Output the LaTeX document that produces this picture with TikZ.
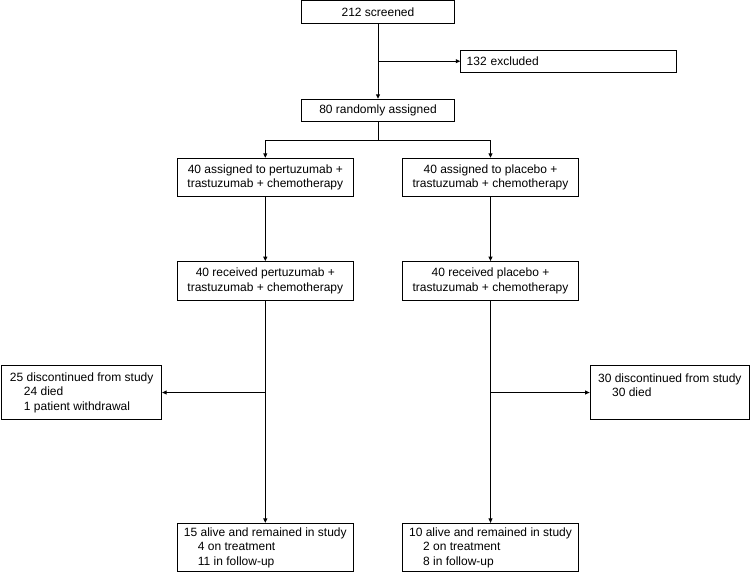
\documentclass[tikz,border=0pt]{standalone}
\usepackage{fontspec}
\setmainfont{Liberation Sans}
\usetikzlibrary{positioning,arrows.meta}

\begin{document}
\begin{tikzpicture}[x=1pt,y=-1pt,
  font=\fontsize{12}{14.5}\selectfont,
  line width=0.9pt,
  box/.style={draw,inner xsep=6pt,inner ysep=0pt,minimum width=176pt,minimum height=38.5pt,align=center},
  slim/.style={box,minimum width=153pt,minimum height=22.5pt},
  listbox/.style={box,align=left},
  >={Triangle[length=4.5pt,width=4pt]}]
  \useasboundingbox (0,0) rectangle (751,573);
  % screening
  \node[slim] (scr) at (378,12) {212 screened};
  \node[slim,align=left,text width=204pt] (exc) at (568.7,61.2) {132 excluded};
  \node[slim] (rand) at (378,110.5) {80 randomly assigned};
  % two arms
  \node[box] (asgL) at (265.3,177.5) {40 assigned to pertuzumab +\\trastuzumab + chemotherapy};
  \node[box] (asgR) at (490.5,177.5) {40 assigned to placebo +\\trastuzumab + chemotherapy};
  \node[box] (recL) at (265.3,280.8) {40 received pertuzumab +\\trastuzumab + chemotherapy};
  \node[box] (recR) at (490.5,280.8) {40 received placebo +\\trastuzumab + chemotherapy};
  % discontinued
  \node[listbox,minimum width=160pt,minimum height=53.6pt] (disL) at (81.7,392.5)
    {25 discontinued from study\\\hspace*{14pt}24 died\\\hspace*{14pt}1 patient withdrawal};
  \node[listbox,minimum width=159.5pt,minimum height=53.6pt] (disR) at (669.8,392.5)
    {30 discontinued from study\\\hspace*{14pt}30 died\\\mbox{}};
  % still in study
  \node[listbox,minimum height=48.4pt] (endL) at (265.3,547.5)
    {15 alive and remained in study\\\hspace*{14pt}4 on treatment\\\hspace*{14pt}11 in follow-up};
  \node[listbox,minimum height=48.4pt] (endR) at (490.5,547.5)
    {10 alive and remained in study\\\hspace*{14pt}2 on treatment\\\hspace*{14pt}8 in follow-up};
  % arrows
  \coordinate (split) at (378,140);
  \draw[->] (scr) -- (rand);
  \draw[->] (scr |- exc) -- (exc);
  \draw (rand) -- (split);
  \draw[->] (split) -| (asgL);
  \draw[->] (split) -| (asgR);
  \draw[->] (asgL) -- (recL);
  \draw[->] (asgR) -- (recR);
  \draw[->] (recL) -- (endL);
  \draw[->] (recR) -- (endR);
  \draw[->] (recL |- disL) -- (disL);
  \draw[->] (recR |- disR) -- (disR);
\end{tikzpicture}
\end{document}
